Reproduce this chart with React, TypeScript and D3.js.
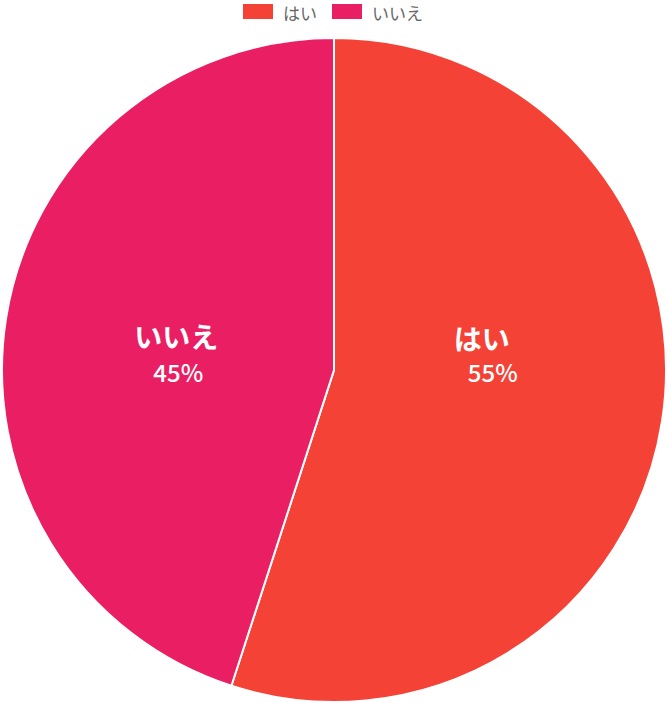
import { useEffect, useRef } from "react"
import * as d3 from "d3"

const labels = ["はい", "いいえ"]
const values = [55, 45]
const colors = ["#f44336", "#e91e63"]

const W = 670
const H = 703
const FONT = "'Noto Sans CJK JP', 'Noto Sans', sans-serif"

export default function App() {
  const svgRef = useRef<SVGSVGElement>(null)

  useEffect(() => {
    const svgEl = svgRef.current
    if (!svgEl) return
    const svg = d3.select(svgEl)
    svg.selectAll("*").remove()

    const cx = 334
    const cy = 370
    const r = 332

    const pie = d3.pie<number>().sort(null).value(d => d)
    const arcs = pie(values)
    const arc = d3.arc<d3.PieArcDatum<number>>().innerRadius(0).outerRadius(r)

    const g = svg.append("g").attr("transform", `translate(${cx},${cy})`)
    g.selectAll("path").data(arcs).join("path")
      .attr("d", d => arc(d) || "")
      .attr("fill", (_, i) => colors[i])
      .attr("stroke", "#fff")
      .attr("stroke-width", 2)

    // labels sit near the slice centroids, nudged by eye
    const labelArc = d3.arc<d3.PieArcDatum<number>>().innerRadius(0).outerRadius(r * 0.95)
    const total = d3.sum(values)
    arcs.forEach((a, i) => {
      const [x, y] = labelArc.centroid(a)
      const nameOff = i === 0 ? [-8, -57] : [-2, -9]
      const pctOff = i === 0 ? [3, -23] : [0, 26]
      g.append("text")
        .attr("x", x + nameOff[0]).attr("y", y + nameOff[1])
        .attr("text-anchor", "middle").attr("dominant-baseline", "central")
        .attr("fill", "#fff").attr("font-family", FONT)
        .attr("font-size", 28).attr("font-weight", 700)
        .text(labels[i])
      g.append("text")
        .attr("x", x + pctOff[0]).attr("y", y + pctOff[1])
        .attr("text-anchor", "middle").attr("dominant-baseline", "central")
        .attr("fill", "#fff").attr("font-family", FONT)
        .attr("font-size", 24).attr("font-weight", 500)
        .text(`${Math.round((values[i] / total) * 100)}%`)
    })

    // legend
    const legend = svg.append("g")
    let lx = 243
    labels.forEach((l, i) => {
      legend.append("rect")
        .attr("x", lx).attr("y", 4).attr("width", 30).attr("height", 15)
        .attr("fill", colors[i])
      const t = legend.append("text")
        .attr("x", lx + 40).attr("y", 12)
        .attr("dominant-baseline", "central")
        .attr("fill", "#666").attr("font-family", FONT).attr("font-size", 17)
        .text(l)
      const tw = (t.node() as SVGTextElement).getComputedTextLength()
      lx += 40 + tw + 15
    })
  }, [])

  return (
    <svg
      ref={svgRef}
      width={W}
      height={H}
      style={{ position: "absolute", left: 0, top: 0, background: "#fff" }}
    />
  )
}
